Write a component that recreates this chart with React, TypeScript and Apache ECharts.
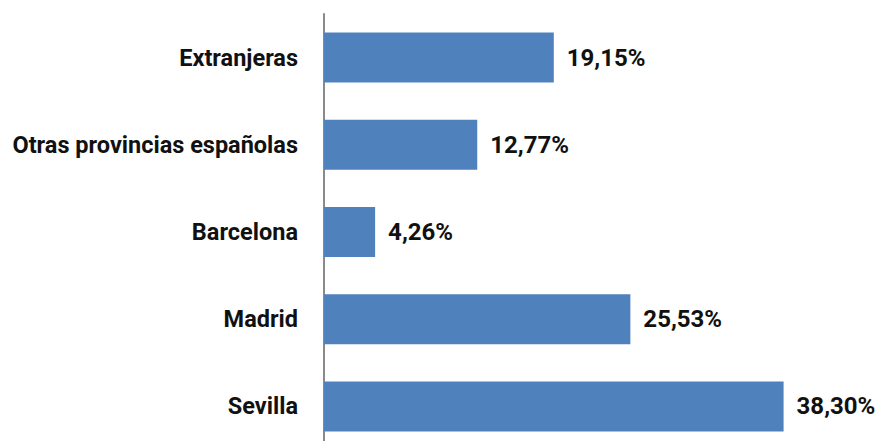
import React, { useEffect, useRef } from "react";
import * as echarts from "echarts";

const categories = ["Extranjeras", "Otras provincias españolas", "Barcelona", "Madrid", "Sevilla"];
const values = [19.15, 12.77, 4.26, 25.53, 38.3];

export default function App() {
  const ref = useRef<HTMLDivElement>(null);
  useEffect(() => {
    if (!ref.current) return;
    const chart = echarts.init(ref.current, undefined, { renderer: "svg" });
    chart.setOption({
      animation: false,
      backgroundColor: "#ffffff",
      grid: { left: 324, top: 14, height: 436, right: 80, containLabel: false },
      xAxis: {
        type: "value",
        min: 0,
        max: 40,
        show: false,
      },
      yAxis: {
        type: "category",
        data: categories,
        inverse: true,
        axisLine: { show: true, lineStyle: { color: "#8a8a8a", width: 2 } },
        axisTick: { show: false },
        axisLabel: {
          margin: 26,
          fontFamily: "Roboto",
          fontWeight: "bold",
          fontSize: 23.5,
          color: "#111111",
        },
      },
      series: [
        {
          type: "bar",
          data: values,
          barWidth: 50,
          itemStyle: { color: "#4f81bd" },
          label: {
            show: true,
            position: "right",
            distance: 13,
            fontFamily: "Roboto",
            fontWeight: "bold",
            fontSize: 24,
            color: "#111111",
            formatter: (p: any) => p.value.toFixed(2).replace(".", ",") + "%",
          },
        },
      ],
    });
    return () => chart.dispose();
  }, []);
  return (
    <div style={{ width: 884, height: 441, position: "absolute", left: 0, top: 0, overflow: "hidden", background: "#fff" }}>
      <div ref={ref} style={{ width: 884, height: 470 }} />
    </div>
  );
}
